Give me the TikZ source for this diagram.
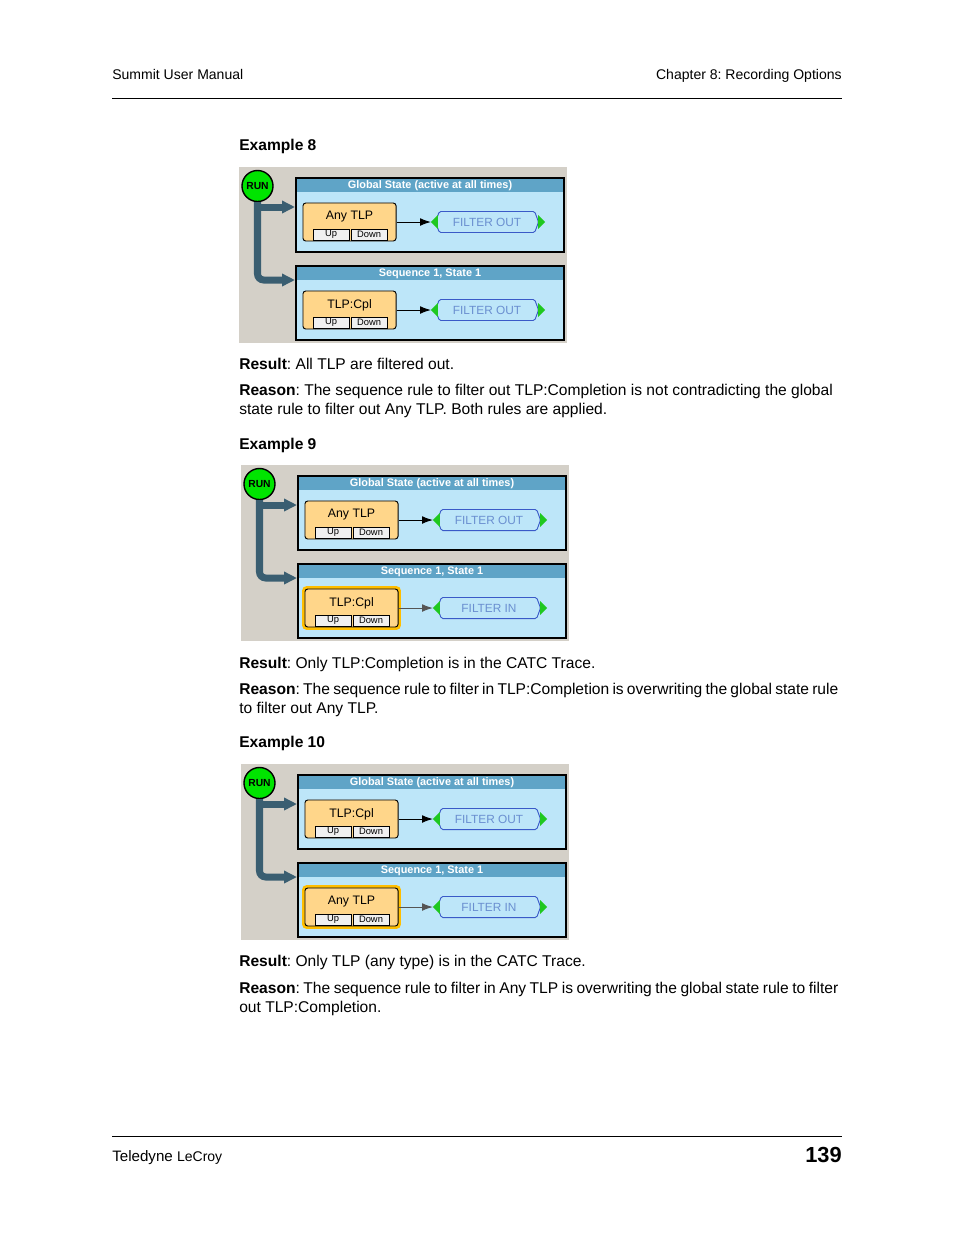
\documentclass[tikz,border=0pt]{standalone}
\usepackage{fontspec}
\setmainfont{Liberation Sans}
\usetikzlibrary{arrows.meta,shapes.symbols}
\frenchspacing
\definecolor{uigray}{HTML}{D4D0C8}
\definecolor{panelblue}{HTML}{BDE6F9}
\definecolor{titleblue}{HTML}{5FA4C7}
\definecolor{boxorange}{HTML}{FFD68A}
\definecolor{hlorange}{HTML}{FFBE00}
\definecolor{flowblue}{HTML}{3A5E71}
\definecolor{rungreen}{HTML}{00E400}
\definecolor{trigreen}{HTML}{1FC81F}
\definecolor{btngray}{HTML}{F0F0F0}
\definecolor{fblue}{HTML}{3A5AC8}
\definecolor{ftext}{HTML}{6A8FD0}
\definecolor{seqline}{HTML}{555555}
\newcommand\jline[2]{\hbox to #1{\spaceskip=0.278em minus 0.15em\relax #2}}
\tikzset{
 txt/.style={inner sep=0pt, font=\fontsize{10}{12}\selectfont, anchor=base west},
 hdr/.style={inner sep=0pt, font=\fontsize{9}{11}\selectfont},
 bgbox/.style={fill=uigray, minimum width=210.4pt, minimum height=112.9pt, inner sep=0pt},
 panel/.style={fill=panelblue, draw=black, line width=1.3pt, minimum width=171.9pt, minimum height=47.5pt, inner sep=0pt},
 ptitle/.style={fill=titleblue, minimum width=170pt, minimum height=8.3pt, inner sep=0pt, text=white, font=\bfseries\fontsize{7}{8}\selectfont},
 runc/.style={circle, fill=rungreen, draw=black, line width=0.9pt, minimum size=19.9pt, inner sep=0pt, font=\bfseries\fontsize{6.6}{8}\selectfont},
 flow/.style={draw=flowblue, line width=4.5pt, -{Triangle[length=8.3pt,width=7.7pt]}},
 obox/.style={fill=boxorange, draw=black, line width=0.6pt, rounded corners=1.8pt, minimum width=59.7pt, minimum height=24.4pt, inner sep=0pt},
 olabel/.style={inner sep=0pt, font=\fontsize{7.9}{9}\selectfont},
 hl/.style={fill=hlorange, rounded corners=3pt, minimum width=63.5pt, minimum height=28.2pt, inner sep=0pt},
 btn/.style={fill=btngray, draw=black, line width=0.5pt, minimum width=23.1pt, minimum height=7.1pt, inner sep=0pt, font=\fontsize{6}{6}\selectfont},
 fbox/.style={signal, signal to=east and west, signal pointer angle=140, draw=fblue, line width=0.6pt, fill=panelblue, minimum width=66.1pt, minimum height=13.5pt, inner sep=0pt, text=ftext, font=\fontsize{7.6}{9}\selectfont, rounded corners=1pt},
 tri/.style={fill=trigreen},
 conn/.style={draw=black, line width=0.6pt, -{Latex[length=7pt,width=5pt]}},
 rulel/.style={draw=black, line width=0.6pt},
}
% #1 prefix, #2 x, #3 y, #4 global rule, #5 global action, #6 seq rule, #7 seq action, #8 highlight
\newcommand\exdiagram[8]{%
\begin{scope}[shift={(#2,#3)}]
 \node[bgbox] (#1bg) at (164,88) {};
 \node[panel] (#1g) at (191,48) {};
 \node[ptitle] (#1gt) at (191,18.5) {Global State (active at all times)};
 \node[panel] (#1s) at (191,136) {};
 \node[ptitle] (#1st) at (191,106.5) {Sequence 1, State 1};
 \node[runc] (#1run) at (18.5,19) {RUN};
 \coordinate (#1b1) at (18.5,40);
 \coordinate (#1b2) at (18.5,113);
 \draw[flow] (#1b1) -- (#1b1 -| #1g.west);
 \draw[flow,rounded corners=4pt] (#1run.south) -- (#1b2) -- (#1b2 -| #1s.west);
 % global rule
 \node[obox] (#1ga) at (110.5,55) {};
 \node[olabel] (#1gal) at (110.5,50) {#4};
 \node[btn] (#1gu) at (92,67.5) {Up};
 \node[btn] (#1gd) at (130,67.5) {Down};
 \node[fbox] (#1gf) at (248,55) {#5};
 \fill[tri] (#1gf.west) ++(-4,0) -- ++(7,-7) -- ++(0,14) -- cycle;
 \fill[tri] (#1gf.east) ++(6,0) -- ++(-7,-7) -- ++(0,14) -- cycle;
 \coordinate[xshift=-2.6pt] (#1gtip) at (#1gf.west);
 \draw[conn] (#1ga.east) -- (#1gtip);
 % sequence rule
 \ifnum#8=1 \node[hl] (#1shl) at (110.5,143) {};\fi
 \node[obox] (#1sa) at (110.5,143) {};
 \node[olabel] (#1sal) at (110.5,138) {#6};
 \node[btn] (#1su) at (92,155.5) {Up};
 \node[btn] (#1sd) at (130,155.5) {Down};
 \node[fbox] (#1sf) at (248,143) {#7};
 \fill[tri] (#1sf.west) ++(-4,0) -- ++(7,-7) -- ++(0,14) -- cycle;
 \fill[tri] (#1sf.east) ++(6,0) -- ++(-7,-7) -- ++(0,14) -- cycle;
 \coordinate[xshift=-2.6pt] (#1stip) at (#1sf.west);
 \ifnum#8=1 \draw[conn,draw=seqline] (#1sa.east) -- (#1stip);\else\draw[conn] (#1sa.east) -- (#1stip);\fi
\end{scope}}
\begin{document}
\begin{tikzpicture}[x=0.6415pt,y=-0.6415pt]
\useasboundingbox (0,0) rectangle (954,1235);
\fill[white] (0,0) rectangle (954,1235);
% header
\node[hdr,anchor=base west] (h1) at (112,79) {Summit User Manual};
\node[hdr,anchor=base east] (h2) at (842,79) {Chapter 8: Recording Options};
\draw[rulel] (112,98) -- (842,98);
% example 8
\node[txt] (e8) at (239,150.5) {\textbf{Example 8}};
\exdiagram{a}{239}{167}{Any TLP}{FILTER OUT}{TLP:Cpl}{FILTER OUT}{0}
\node[txt] (r8) at (239,369) {\textbf{Result}: All TLP are filtered out.};
\node[txt] (q8a) at (239,395) {\textbf{Reason}: The sequence rule to filter out TLP:Completion is not contradicting the global};
\node[txt] (q8b) at (239,414) {state rule to filter out Any TLP. Both rules are applied.};
% example 9
\node[txt] (e9) at (239,449.5) {\textbf{Example 9}};
\exdiagram{b}{241}{465}{Any TLP}{FILTER OUT}{TLP:Cpl}{FILTER IN}{1}
\node[txt] (r9) at (239,668) {\textbf{Result}: Only TLP:Completion is in the CATC Trace.};
\node[txt] (q9a) at (239,694) {\jline{384.3pt}{\textbf{Reason}: The sequence rule to filter in TLP:Completion is overwriting the global state rule}};
\node[txt] (q9b) at (239,713) {to filter out Any TLP.};
% example 10
\node[txt] (e10) at (239,747.5) {\textbf{Example 10}};
\exdiagram{c}{241}{764}{TLP:Cpl}{FILTER OUT}{Any TLP}{FILTER IN}{1}
\node[txt] (r10) at (239,966) {\textbf{Result}: Only TLP (any type) is in the CATC Trace.};
\node[txt] (q10a) at (239,993) {\jline{384.3pt}{\textbf{Reason}: The sequence rule to filter in Any TLP is overwriting the global state rule to filter}};
\node[txt] (q10b) at (239,1012) {out TLP:Completion.};
% footer
\draw[rulel] (112,1136) -- (842,1136);
\node[anchor=base west,inner sep=0pt,font=\fontsize{9.7}{11}\selectfont] (f1) at (112,1161) {Teledyne {\fontsize{9}{10}\selectfont LeCroy}};
\node[anchor=base east,inner sep=0pt,font=\bfseries\fontsize{14}{16}\selectfont] (f2) at (842,1162) {139};
\end{tikzpicture}
\end{document}
